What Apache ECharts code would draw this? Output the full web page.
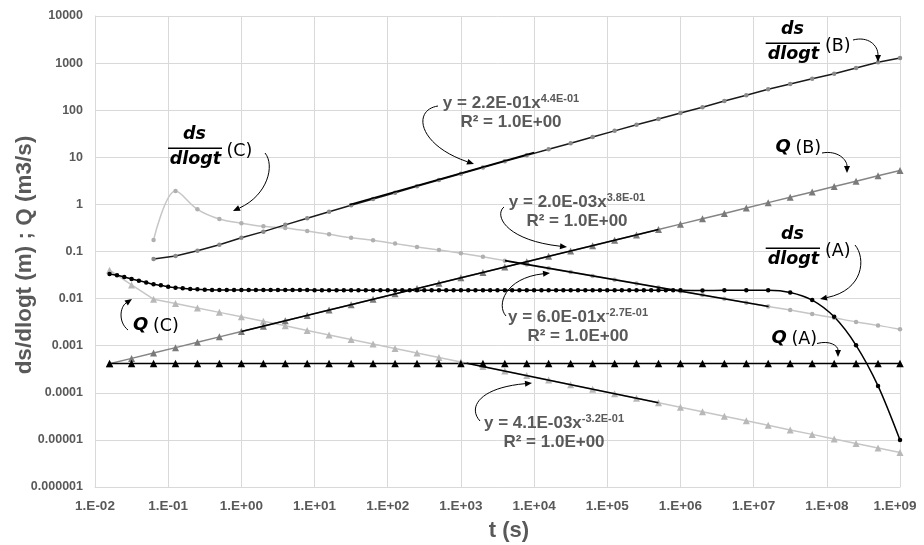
<!DOCTYPE html>
<html>
<head>
<meta charset="utf-8">
<script src="https://cdn.jsdelivr.net/npm/echarts@6/dist/echarts.min.js"></script>
<style>
html,body{margin:0;padding:0;background:#fff;}
#chart{width:924px;height:545px;}
</style>
</head>
<body>
<div id="chart"></div>
<script>
// ---- Time steps (s) ----
// coarse steps: 0.3 log units apart
const tMain = [
  1.58e-2, 3.16e-2, 6.31e-2, 1.26e-1, 2.51e-1, 5.01e-1, 1.00, 2.00, 3.98, 7.94,
  1.58e1, 3.16e1, 6.31e1, 1.26e2, 2.51e2, 5.01e2, 1.00e3, 2.00e3, 3.98e3, 7.94e3,
  1.58e4, 3.16e4, 6.31e4, 1.26e5, 2.51e5, 5.01e5, 1.00e6, 2.00e6, 3.98e6, 7.94e6,
  1.58e7, 3.16e7, 6.31e7, 1.26e8, 2.51e8, 5.01e8, 1.00e9
];
// dense steps for case A (ten per decade up to 1e6, then coarse)
const tA = [
  1.58e-2, 2.00e-2, 2.51e-2, 3.16e-2, 3.98e-2, 5.01e-2, 6.31e-2, 7.94e-2,
  1.00e-1, 1.26e-1, 1.58e-1, 2.00e-1, 2.51e-1, 3.16e-1, 3.98e-1, 5.01e-1, 6.31e-1, 7.94e-1,
  1.00, 1.26, 1.58, 2.00, 2.51, 3.16, 3.98, 5.01, 6.31, 7.94,
  1.00e1, 1.26e1, 1.58e1, 2.00e1, 2.51e1, 3.16e1, 3.98e1, 5.01e1, 6.31e1, 7.94e1,
  1.00e2, 1.26e2, 1.58e2, 2.00e2, 2.51e2, 3.16e2, 3.98e2, 5.01e2, 6.31e2, 7.94e2,
  1.00e3, 1.26e3, 1.58e3, 2.00e3, 2.51e3, 3.16e3, 3.98e3, 5.01e3, 6.31e3, 7.94e3,
  1.00e4, 1.26e4, 1.58e4, 2.00e4, 2.51e4, 3.16e4, 3.98e4, 5.01e4, 6.31e4, 7.94e4,
  1.00e5, 1.26e5, 1.58e5, 2.00e5, 2.51e5, 3.16e5, 3.98e5, 5.01e5, 6.31e5, 7.94e5,
  1.00e6,
  2.00e6, 3.98e6, 7.94e6, 1.58e7, 3.16e7, 6.31e7, 1.26e8, 2.51e8, 5.01e8, 1.00e9
];

// ---- Case A ----
const dsA = [
  0.0333, 0.0312, 0.0288, 0.0261, 0.0240, 0.0221, 0.0201, 0.0191,
  0.0179, 0.0171, 0.0165, 0.0160, 0.0157, 0.0155, 0.0153, 0.0152, 0.0152, 0.0152,
  0.0152, 0.0152, 0.0152, 0.0152, 0.0152, 0.0152, 0.0152, 0.0152, 0.0152, 0.0152,
  0.0151, 0.0151, 0.0151, 0.0151, 0.0151, 0.0151, 0.0151, 0.0151, 0.0151, 0.0151,
  0.0151, 0.0151, 0.0151, 0.0151, 0.0151, 0.0151, 0.0151, 0.0151, 0.0151, 0.0151,
  0.0150, 0.0150, 0.0150, 0.0150, 0.0150, 0.0150, 0.0150, 0.0150, 0.0150, 0.0150,
  0.0150, 0.0150, 0.0150, 0.0150, 0.0150, 0.0150, 0.0150, 0.0150, 0.0150, 0.0150,
  0.0150, 0.0150, 0.0150, 0.0150, 0.0150, 0.0150, 0.0150, 0.0150, 0.0150, 0.0150,
  0.0150,
  0.0148, 0.0150, 0.0150, 0.0150, 0.0135, 0.0093, 0.0041, 0.00102, 0.000140, 0.0000099
];
const qA = [
  0.00042, 0.00042, 0.00042, 0.00042, 0.00042, 0.00042, 0.00042, 0.00042, 0.00042, 0.00042,
  0.00042, 0.00042, 0.00042, 0.00042, 0.00042, 0.00042, 0.00042, 0.00042, 0.00042, 0.00042,
  0.00042, 0.00042, 0.00042, 0.00042, 0.00042, 0.00042, 0.00042, 0.00042, 0.00042, 0.00042,
  0.00042, 0.00042, 0.00042, 0.00042, 0.00042, 0.00042, 0.00042
];

// ---- Case B ----
const dsB = [
  null, null, 0.069, 0.080, 0.104, 0.139, 0.196, 0.264, 0.368, 0.507,
  0.70, 0.957, 1.30, 1.77, 2.42, 3.30, 4.49, 6.06, 8.2, 11.0,
  14.8, 19.8, 27.0, 36.4, 49, 65, 87, 115, 157, 207,
  278, 360, 467, 596, 787, 1040, 1283
];
const qB = [
  0.000414, 0.000538, 0.000700, 0.000910, 0.00118, 0.00154, 0.00200, 0.00260, 0.00338, 0.00440,
  0.00571, 0.00743, 0.00966, 0.0126, 0.0163, 0.0212, 0.0276, 0.0359, 0.0467, 0.0607,
  0.0789, 0.103, 0.133, 0.173, 0.225, 0.293, 0.381, 0.495, 0.644, 0.837,
  1.09, 1.42, 1.84, 2.39, 3.11, 4.05, 5.26
];

// ---- Case C ----
const dsC = [
  null, null, 0.175, 1.92, 0.787, 0.49, 0.40, 0.342, 0.316, 0.272,
  0.232, 0.196, 0.173, 0.147, 0.125, 0.108, 0.092, 0.077, 0.064, 0.053,
  0.044, 0.0366, 0.0303, 0.0252, 0.0209, 0.0173, 0.0144, 0.0119, 0.0099, 0.0082,
  0.0068, 0.0057, 0.0047, 0.0039, 0.0032, 0.0027, 0.00223
];
const qC = [
  0.040, 0.0195, 0.0097, 0.0079, 0.0063, 0.0051, 0.0041, 0.00329, 0.00264, 0.00211,
  0.00169, 0.00136, 0.00109, 0.000873, 0.000700, 0.000561, 0.000450, 0.000361, 0.000289, 0.000232,
  0.000186, 0.000149, 0.000119, 0.0000957, 0.0000767, 0.0000615, 0.0000493, 0.0000395, 0.0000317, 0.0000254,
  0.0000204, 0.0000163, 0.0000131, 0.0000105, 0.0000084, 0.0000067, 0.0000054
];

// ---- Power-law trendlines y = a * t^b ----
const trendCoef = [0.22, 0.002, 0.6, 0.0041];
const trendExp = [0.44, 0.38, -0.27, -0.32];
const trendFrom = [30, 1, 4000, 1200];
const trendTo = [10000, 500000, 16000000, 500000];
const trendEq = ['y = 2.2E-01x', 'y = 2.0E-03x', 'y = 6.0E-01x', 'y = 4.1E-03x'];
const trendEqExp = ['4.4E-01', '3.8E-01', '-2.7E-01', '-3.2E-01'];
const trendR2 = ['R² = 1.0E+00', 'R² = 1.0E+00', 'R² = 1.0E+00', 'R² = 1.0E+00'];

// ---- Tick labels ----
const xTickLabels = ['1.E-02', '1.E-01', '1.E+00', '1.E+01', '1.E+02', '1.E+03',
  '1.E+04', '1.E+05', '1.E+06', '1.E+07', '1.E+08', '1.E+09'];
const yTickLabels = ['0.000001', '0.00001', '0.0001', '0.001', '0.01', '0.1',
  '1', '10', '100', '1000', '10000'];

const pairs = (ts, vs) => ts.map((t, i) => [t, vs[i]]).filter(p => p[1] != null);
const trendData = i => [trendFrom[i], trendTo[i]].map(t => [t, trendCoef[i] * Math.pow(t, trendExp[i])]);

const GRAY_TXT = '#595959';
const GRID = '#d9d9d9';

function lineSeries(name, data, lineColor, markColor, symbol, size, smooth) {
  return {
    type: 'line', name, data, symbol, symbolSize: size, smooth: smooth || false,
    showSymbol: true, animation: false,
    lineStyle: { color: lineColor, width: 1.5 },
    itemStyle: { color: markColor, borderWidth: 0 },
    emphasis: { disabled: true }
  };
}
function trendSeries(i) {
  return {
    type: 'line', name: 'trend' + i, data: trendData(i), symbol: 'none', z: 4,
    animation: false, lineStyle: { color: '#000', width: 1.6 }, emphasis: { disabled: true }
  };
}

// ---- Annotations ----
function arrow(p0, c1, c2, p3) {
  const dx = p3[0] - c2[0], dy = p3[1] - c2[1];
  const L = Math.hypot(dx, dy), ux = dx / L, uy = dy / L;
  const hl = 7, hw = 3;
  const bx = p3[0] - ux * hl, by = p3[1] - uy * hl;
  return [
    { type: 'bezierCurve', silent: true, z: 10,
      shape: { x1: p0[0], y1: p0[1], cpx1: c1[0], cpy1: c1[1], cpx2: c2[0], cpy2: c2[1], x2: bx, y2: by },
      style: { stroke: '#000', lineWidth: 1, fill: 'none' } },
    { type: 'polygon', silent: true, z: 10,
      shape: { points: [[p3[0], p3[1]], [bx - uy * hw, by + ux * hw], [bx + uy * hw, by - ux * hw]] },
      style: { fill: '#000' } }
  ];
}
function txt(x, y, text, font, align, fill) {
  return { type: 'text', x, y, silent: true, z: 10,
    style: { text, font, fill: fill || '#000', align: align || 'center', verticalAlign: 'middle' } };
}
function trendLabel(i, cx, y1, y2) {
  return [
    { type: 'text', x: cx, y: y1, silent: true, z: 10,
      style: {
        text: '{m|' + trendEq[i] + '}{s|' + trendEqExp[i] + '}',
        align: 'center', verticalAlign: 'middle',
        rich: {
          m: { fontFamily: 'Liberation Sans', fontWeight: 'bold', fontSize: 17, fill: GRAY_TXT, lineHeight: 20 },
          s: { fontFamily: 'Liberation Sans', fontWeight: 'bold', fontSize: 11, fill: GRAY_TXT, lineHeight: 13, verticalAlign: 'top' }
        }
      } },
    txt(cx, y2, trendR2[i], 'bold 17px "Liberation Sans"', 'center', GRAY_TXT)
  ];
}
const FR_B = 'italic bold 17.5px "DejaVu Sans"';
const FR_R = '17.5px "DejaVu Sans"';
function fraction(cx, barY, x1, x2, tag, tagX) {
  return [
    txt(cx, barY - 13.5, 'ds', FR_B),
    { type: 'line', silent: true, z: 10, shape: { x1, y1: barY, x2, y2: barY }, style: { stroke: '#000', lineWidth: 1.6 } },
    txt(cx + 1, barY + 11.5, 'dlogt', FR_B),
    txt(tagX, barY + 3, tag, FR_R, 'left')
  ];
}
function qLabel(x, y, tag) {
  return [
    txt(x, y, 'Q', 'italic bold 18px "DejaVu Sans"', 'left'),
    txt(x + 20, y + 1, tag, FR_R, 'left')
  ];
}

const graphics = [].concat(
  // axis titles
  [txt(509, 531, 't (s)', 'bold 22px "Liberation Sans"', 'center', GRAY_TXT)],
  [{ type: 'text', x: 25, y: 255, rotation: Math.PI / 2, silent: true,
     style: { text: 'ds/dlogt (m) ; Q (m3/s)', font: 'bold 22.5px "Liberation Sans"', fill: GRAY_TXT, align: 'center', verticalAlign: 'middle' } }],
  // trendline equations
  trendLabel(0, 511, 103, 122),
  trendLabel(1, 577, 202, 221),
  trendLabel(2, 578, 317.5, 336.5),
  trendLabel(3, 554, 423, 442),
  arrow([438, 106], [412, 110], [418, 145], [474, 164]),
  arrow([504, 207], [494, 215], [505, 240], [567, 247]),
  arrow([506, 316], [496, 305], [505, 278], [550, 273]),
  arrow([480, 421], [468, 408], [478, 388], [532, 383]),
  // series labels
  fraction(194.5, 148.3, 168, 222, '(C)', 226.5),
  arrow([265, 153], [275, 165], [268, 195], [233, 211]),
  fraction(792.5, 43.3, 765.7, 820, '(B)', 825),
  arrow([853, 40], [868, 36], [878, 45], [878, 62]),
  fraction(792.5, 248.3, 765.7, 820, '(A)', 825),
  arrow([855, 245], [866, 258], [864, 290], [820, 299]),
  qLabel(775.5, 147, '(B)'),
  arrow([822, 153], [838, 150], [847, 160], [847, 173]),
  qLabel(771.5, 338.5, '(A)'),
  arrow([817, 343.5], [830, 340], [838, 346], [838, 357]),
  qLabel(133, 325, '(C)'),
  arrow([128, 330], [118, 322], [120, 307], [132, 299])
);

const chart = echarts.init(document.getElementById('chart'));
chart.setOption({
  animation: false,
  backgroundColor: '#fff',
  grid: { left: 95, right: 24, top: 16, bottom: 58, containLabel: false },
  xAxis: {
    type: 'log', logBase: 10, min: 0.01, max: 1e9, interval: 1, splitNumber: 11,
    axisLine: { show: true, lineStyle: { color: GRID, width: 1 } },
    axisTick: { show: false },
    splitLine: { show: true, lineStyle: { color: GRID, width: 1 } },
    minorTick: { show: false }, minorSplitLine: { show: false },
    axisLabel: {
      color: GRAY_TXT, fontFamily: 'Liberation Sans', fontWeight: 'bold', fontSize: 13.5, margin: 12,
      formatter: v => {
        const k = Math.round(Math.log10(v)) + 2;
        // keep the last label inside the canvas
        return k === xTickLabels.length - 1 ? '{last|' + xTickLabels[k] + '}' : xTickLabels[k];
      },
      rich: { last: { padding: [0, 10, 0, 0] } }
    }
  },
  yAxis: {
    type: 'log', logBase: 10, min: 1e-6, max: 1e4, interval: 1, splitNumber: 10,
    axisLine: { show: true, lineStyle: { color: GRID, width: 1 } },
    axisTick: { show: false },
    splitLine: { show: true, lineStyle: { color: GRID, width: 1 } },
    minorTick: { show: false }, minorSplitLine: { show: false },
    axisLabel: {
      color: GRAY_TXT, fontFamily: 'Liberation Sans', fontWeight: 'bold', fontSize: 12.5, margin: 12,
      formatter: v => yTickLabels[Math.round(Math.log10(v)) + 6]
    }
  },
  series: [
    lineSeries('Q (C)', pairs(tMain, qC), '#c6c6c6', '#b8b8b8', 'triangle', 7),
    lineSeries('ds/dlogt (C)', pairs(tMain, dsC), '#c6c6c6', '#b0b0b0', 'circle', 4.5, 0.35),
    lineSeries('Q (B)', pairs(tMain, qB), '#858585', '#7a7a7a', 'triangle', 7),
    lineSeries('ds/dlogt (B)', pairs(tMain, dsB), '#1a1a1a', '#8a8a8a', 'circle', 4.5),
    lineSeries('Q (A)', pairs(tMain, qA), '#000', '#000', 'triangle', 7.5),
    lineSeries('ds/dlogt (A)', pairs(tA, dsA), '#000', '#000', 'circle', 4.5, 0.3),
    trendSeries(0), trendSeries(1), trendSeries(2), trendSeries(3)
  ],
  graphic: { elements: graphics }
});
</script>
</body>
</html>
